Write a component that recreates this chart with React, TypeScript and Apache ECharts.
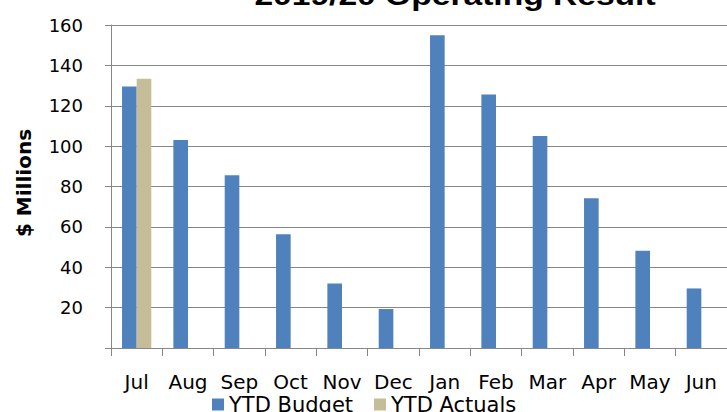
import React, { useEffect, useRef } from "react";
import * as echarts from "echarts";

const months = ["Jul", "Aug", "Sep", "Oct", "Nov", "Dec", "Jan", "Feb", "Mar", "Apr", "May", "Jun"];
const ytdBudget = [129.5, 103, 85.6, 56.3, 31.9, 19.3, 154.9, 125.6, 105, 74.2, 48.2, 29.5];
const ytdActuals: (number | null)[] = [133.4, null, null, null, null, null, null, null, null, null, null, null];
const seriesNames = ["YTD Budget", "YTD Actuals"];
const titleText = "2019/20 Operating Result";
const yAxisTitle = "$ Millions";

export default function App() {
  const ref = useRef<HTMLDivElement>(null);
  useEffect(() => {
    if (!ref.current) return;
    const chart = echarts.init(ref.current, null, { renderer: "svg" });
    const axisColor = "#878787";
    chart.setOption({
      animation: false,
      backgroundColor: "#ffffff",
      grid: { left: 111, top: 25, width: 619, height: 323, containLabel: false },
      legend: {
        left: 212,
        top: 394,
        padding: 0,
        itemWidth: 12,
        itemHeight: 12,
        itemGap: 21,
        icon: "rect",
        data: seriesNames,
        textStyle: { fontFamily: "DejaVu Sans", fontSize: 21, color: "#000" },
      },
      xAxis: {
        type: "category",
        data: months,
        axisLine: { show: true, lineStyle: { color: axisColor, width: 1 } },
        axisTick: { show: true, length: 8, lineStyle: { color: axisColor } },
        axisLabel: { interval: 0, margin: 24, fontFamily: "DejaVu Sans", fontSize: 20, color: "#000" },
      },
      yAxis: {
        type: "value",
        min: 0,
        max: 160,
        interval: 20,
        axisLine: { show: true, lineStyle: { color: axisColor, width: 1 } },
        axisTick: { show: true, length: 6, lineStyle: { color: axisColor } },
        splitLine: { show: true, lineStyle: { color: axisColor, width: 1 } },
        axisLabel: {
          margin: 28,
          fontFamily: "DejaVu Sans",
          fontSize: 18,
          color: "#000",
          formatter: (v: number) => (v === 0 ? "" : String(v)),
        },
      },
      graphic: [
        {
          type: "text",
          x: 455,
          y: -5,
          scaleX: 1.2,
          style: {
            text: titleText,
            fontFamily: "Liberation Sans",
            fontWeight: "bold",
            fontSize: 28,
            fill: "#000",
            align: "center",
            verticalAlign: "middle",
          },
        },
        {
          type: "text",
          x: 24,
          y: 183,
          rotation: Math.PI / 2,
          style: {
            text: yAxisTitle,
            fontFamily: "DejaVu Sans",
            fontWeight: "bold",
            fontSize: 20,
            fill: "#000",
            align: "center",
            verticalAlign: "middle",
          },
        },
      ],
      series: [
        {
          name: seriesNames[0],
          type: "bar",
          data: ytdBudget,
          barGap: "0%",
          barCategoryGap: "43%",
          itemStyle: { color: "#4F81BD" },
        },
        {
          name: seriesNames[1],
          type: "bar",
          data: ytdActuals,
          barGap: "0%",
          barCategoryGap: "43%",
          itemStyle: { color: "#C4BD97" },
        },
      ],
    });
    return () => chart.dispose();
  }, []);
  return <div ref={ref} style={{ width: 727, height: 412, position: "absolute", left: 0, top: 0 }} />;
}
